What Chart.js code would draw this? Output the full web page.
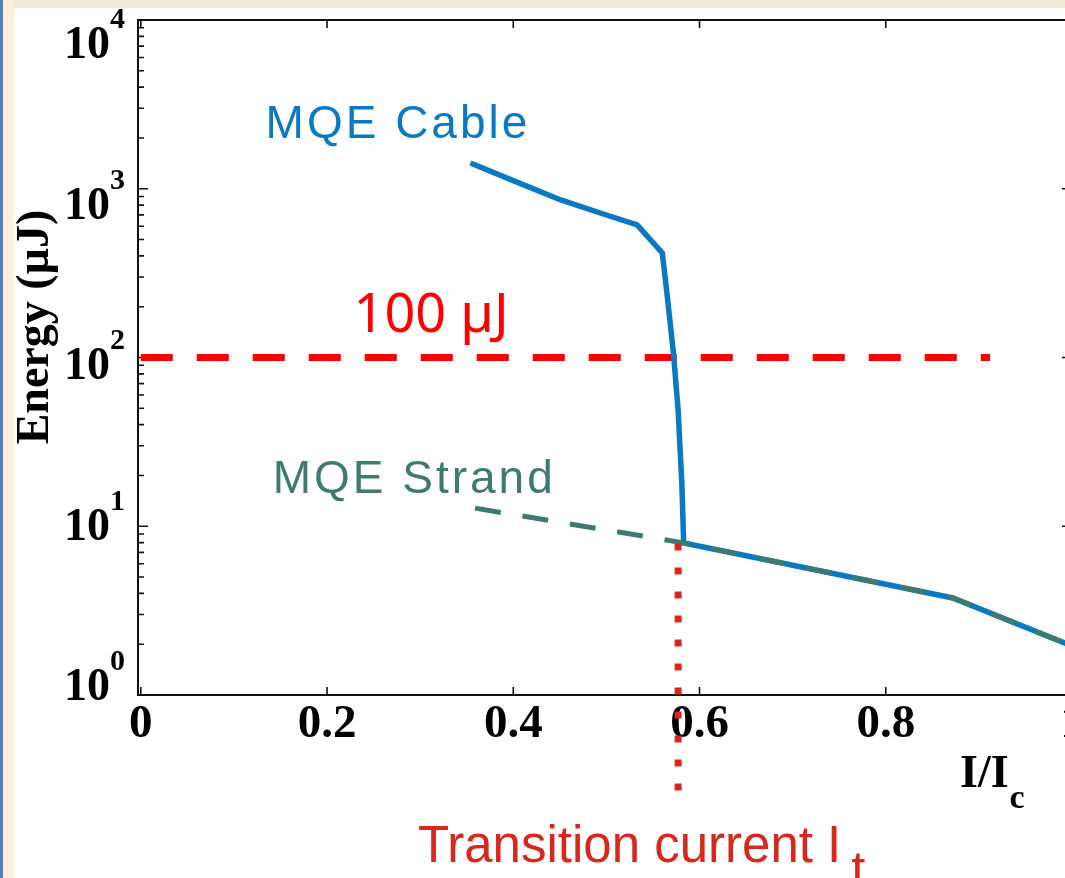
<!DOCTYPE html>
<html><head><meta charset="utf-8">
<script src="https://cdn.jsdelivr.net/npm/chart.js@4.4.1/dist/chart.umd.min.js"></script>
<style>
html,body{margin:0;padding:0;background:#fff;overflow:hidden;width:1065px;height:878px;}
#blue{position:absolute;left:0;top:0;width:3px;height:878px;background:#5282bf;}
#beige{position:absolute;left:3px;top:0;width:11px;height:878px;background:#fdf0d8;}
#topband{position:absolute;left:14px;top:0;width:1051px;height:8px;background:#f0ead6;}
#wrap{position:absolute;left:0;top:0;width:1100px;height:878px;}
</style></head><body>
<div id="blue"></div><div id="beige"></div><div id="topband"></div>
<div id="wrap"><canvas id="c" width="1100" height="878"></canvas></div>
<script>
// ---- data ----
const cableX = [0.354, 0.400, 0.451, 0.500, 0.533, 0.560, 0.565, 0.572, 0.577, 0.581, 0.583, 0.872, 1.000];
const cableY = [1420, 1117, 858, 699, 610, 416, 241, 106, 49, 18, 7.97, 3.76, 1.95];
const strandX = [0.359, 0.583, 0.872, 1.000];
const strandY = [12.8, 7.97, 3.76, 1.95];
const thresholdX = [0, 0.912];
const thresholdY = [100, 100];
const transitionX = [0.577, 0.577];
const transitionY = [7.9, 0.25];
const xTickValues = [0, 0.2, 0.4, 0.6, 0.8, 1];
const xTickLabels = ['0', '0.2', '0.4', '0.6', '0.8', '1'];
const yTickExponents = [0, 1, 2, 3, 4];
const yTickBase = '10';

const BLUE = '#0a79c3';
const GREEN = '#3e7a6f';
const SERIF = '"Liberation Serif", "Times New Roman", serif';
const SANS = '"Liberation Sans", Arial, sans-serif';

const pts = (xs, ys) => xs.map((v, i) => ({x: v, y: ys[i]}));

const framePlugin = {
  id: 'frame',
  beforeDatasetsDraw(chart) {
    const {ctx, chartArea: a, scales: {x, y}} = chart;
    ctx.save();
    ctx.strokeStyle = '#111';
    ctx.lineWidth = 2;
    ctx.strokeRect(a.left, a.top, a.right - a.left, a.bottom - a.top);
    ctx.lineWidth = 1.6;
    ctx.beginPath();
    const kMin = yTickExponents[0], kMax = yTickExponents[yTickExponents.length - 1];
    for (let k = kMin; k <= kMax; k++) {
      for (let m = 1; m <= 9; m++) {
        if (k === kMax && m > 1) break;
        const py = y.getPixelForValue(m * Math.pow(10, k));
        const len = m === 1 ? 10 : 6;
        ctx.moveTo(a.left, py); ctx.lineTo(a.left + len, py);
        ctx.moveTo(a.right, py); ctx.lineTo(a.right - len, py);
      }
    }
    xTickValues.forEach(v => {
      const px = x.getPixelForValue(v);
      ctx.moveTo(px, a.bottom); ctx.lineTo(px, a.bottom - 8);
      ctx.moveTo(px, a.top); ctx.lineTo(px, a.top + 8);
    });
    ctx.stroke();
    // y tick labels 10^k
    ctx.fillStyle = '#000';
    yTickExponents.forEach(k => {
      const py = y.getPixelForValue(Math.pow(10, k));
      const base = py + 5 + 8.25 * k;
      ctx.font = 'bold 46px ' + SERIF;
      ctx.textAlign = 'right';
      ctx.textBaseline = 'alphabetic';
      ctx.fillText(yTickBase, a.left - 28, base);
      ctx.font = 'bold 30px ' + SERIF;
      ctx.textAlign = 'left';
      ctx.fillText(String(k), a.left - 28, base - 30);
    });
    ctx.restore();
  },
  afterDraw(chart) {
    const {ctx, chartArea: a, scales: {x, y}} = chart;
    ctx.save();
    ctx.textBaseline = 'alphabetic';
    ctx.textAlign = 'left';
    try { ctx.letterSpacing = '3px'; } catch (e) {}
    ctx.font = '46px ' + SANS;
    ctx.fillStyle = BLUE;
    ctx.fillText('MQE Cable', x.getPixelForValue(0.134), y.getPixelForValue(2000));
    ctx.fillStyle = GREEN;
    ctx.fillText('MQE Strand', x.getPixelForValue(0.1416), y.getPixelForValue(15.7));
    try { ctx.letterSpacing = '0px'; } catch (e) {}
    ctx.font = '54px "Noto Sans", "Open Sans", sans-serif';
    ctx.fillStyle = '#ff0000';
    ctx.fillText('100 \u00b5J', x.getPixelForValue(0.2285), y.getPixelForValue(141.6));
    // transition label
    ctx.font = '51px ' + SANS;
    ctx.fillStyle = '#d8281e';
    const tx = a.left + 280, ty = a.bottom + 167;
    const main = 'Transition current I';
    ctx.fillText(main, tx, ty);
    const w = ctx.measureText(main).width;
    ctx.fillText('t', tx + w + 10, ty + 25);
    // x title
    ctx.fillStyle = '#000';
    ctx.font = 'bold 46px ' + SERIF;
    const xt = 'I/I';
    const xtx = a.left + 822, xty = a.bottom + 92;
    ctx.fillText(xt, xtx, xty);
    const xw = ctx.measureText(xt).width;
    ctx.font = 'bold 34px ' + SERIF;
    ctx.fillText('c', xtx + xw + 1, xty + 21);
    // y title
    ctx.font = 'bold 46px ' + SERIF;
    ctx.translate(48, 327);
    ctx.rotate(-Math.PI / 2);
    ctx.textAlign = 'center';
    ctx.fillText('Energy (\u00b5J)', 0, 0);
    ctx.restore();
  }
};

new Chart(document.getElementById('c'), {
  type: 'scatter',
  data: {
    datasets: [
      {label: 'Transition current', data: pts(transitionX, transitionY), showLine: true,
       borderColor: '#d8281e', borderWidth: 7, borderDash: [7, 17], pointRadius: 0, clip: false, order: 0},
      {label: 'MQE Strand', data: pts(strandX, strandY), showLine: true,
       borderColor: GREEN, borderWidth: 5, borderDash: [26, 22], pointRadius: 0, order: 1},
      {label: 'MQE Cable', data: pts(cableX, cableY), showLine: true,
       borderColor: BLUE, borderWidth: 5.5, pointRadius: 0, order: 2},
      {label: '100 \u00b5J', data: pts(thresholdX, thresholdY), showLine: true,
       borderColor: '#ff0000', borderWidth: 7, borderDash: [32, 24], pointRadius: 0, order: 3}
    ]
  },
  options: {
    responsive: false,
    animation: false,
    devicePixelRatio: 1,
    layout: {padding: {top: 20, right: 28, left: 0, bottom: 0}},
    plugins: {legend: {display: false}, tooltip: {enabled: false}},
    scales: {
      x: {
        type: 'linear', min: -0.003, max: 1,
        afterBuildTicks: s => { s.ticks = xTickValues.map(v => ({value: v})); },
        afterFit: s => { s.height = 183; },
        grid: {display: false, drawTicks: false},
        border: {display: false},
        ticks: {
          color: '#000', padding: 2,
          font: {family: SERIF, size: 47, weight: 'bold'},
          callback: (v) => { const i = xTickValues.indexOf(v); return i >= 0 ? xTickLabels[i] : ''; }
        }
      },
      y: {
        type: 'logarithmic', min: 1, max: 10000,
        afterFit: s => { s.width = 138; },
        grid: {display: false, drawTicks: false},
        border: {display: false},
        ticks: {display: false}
      }
    }
  },
  plugins: [framePlugin]
});
</script>
</body></html>
